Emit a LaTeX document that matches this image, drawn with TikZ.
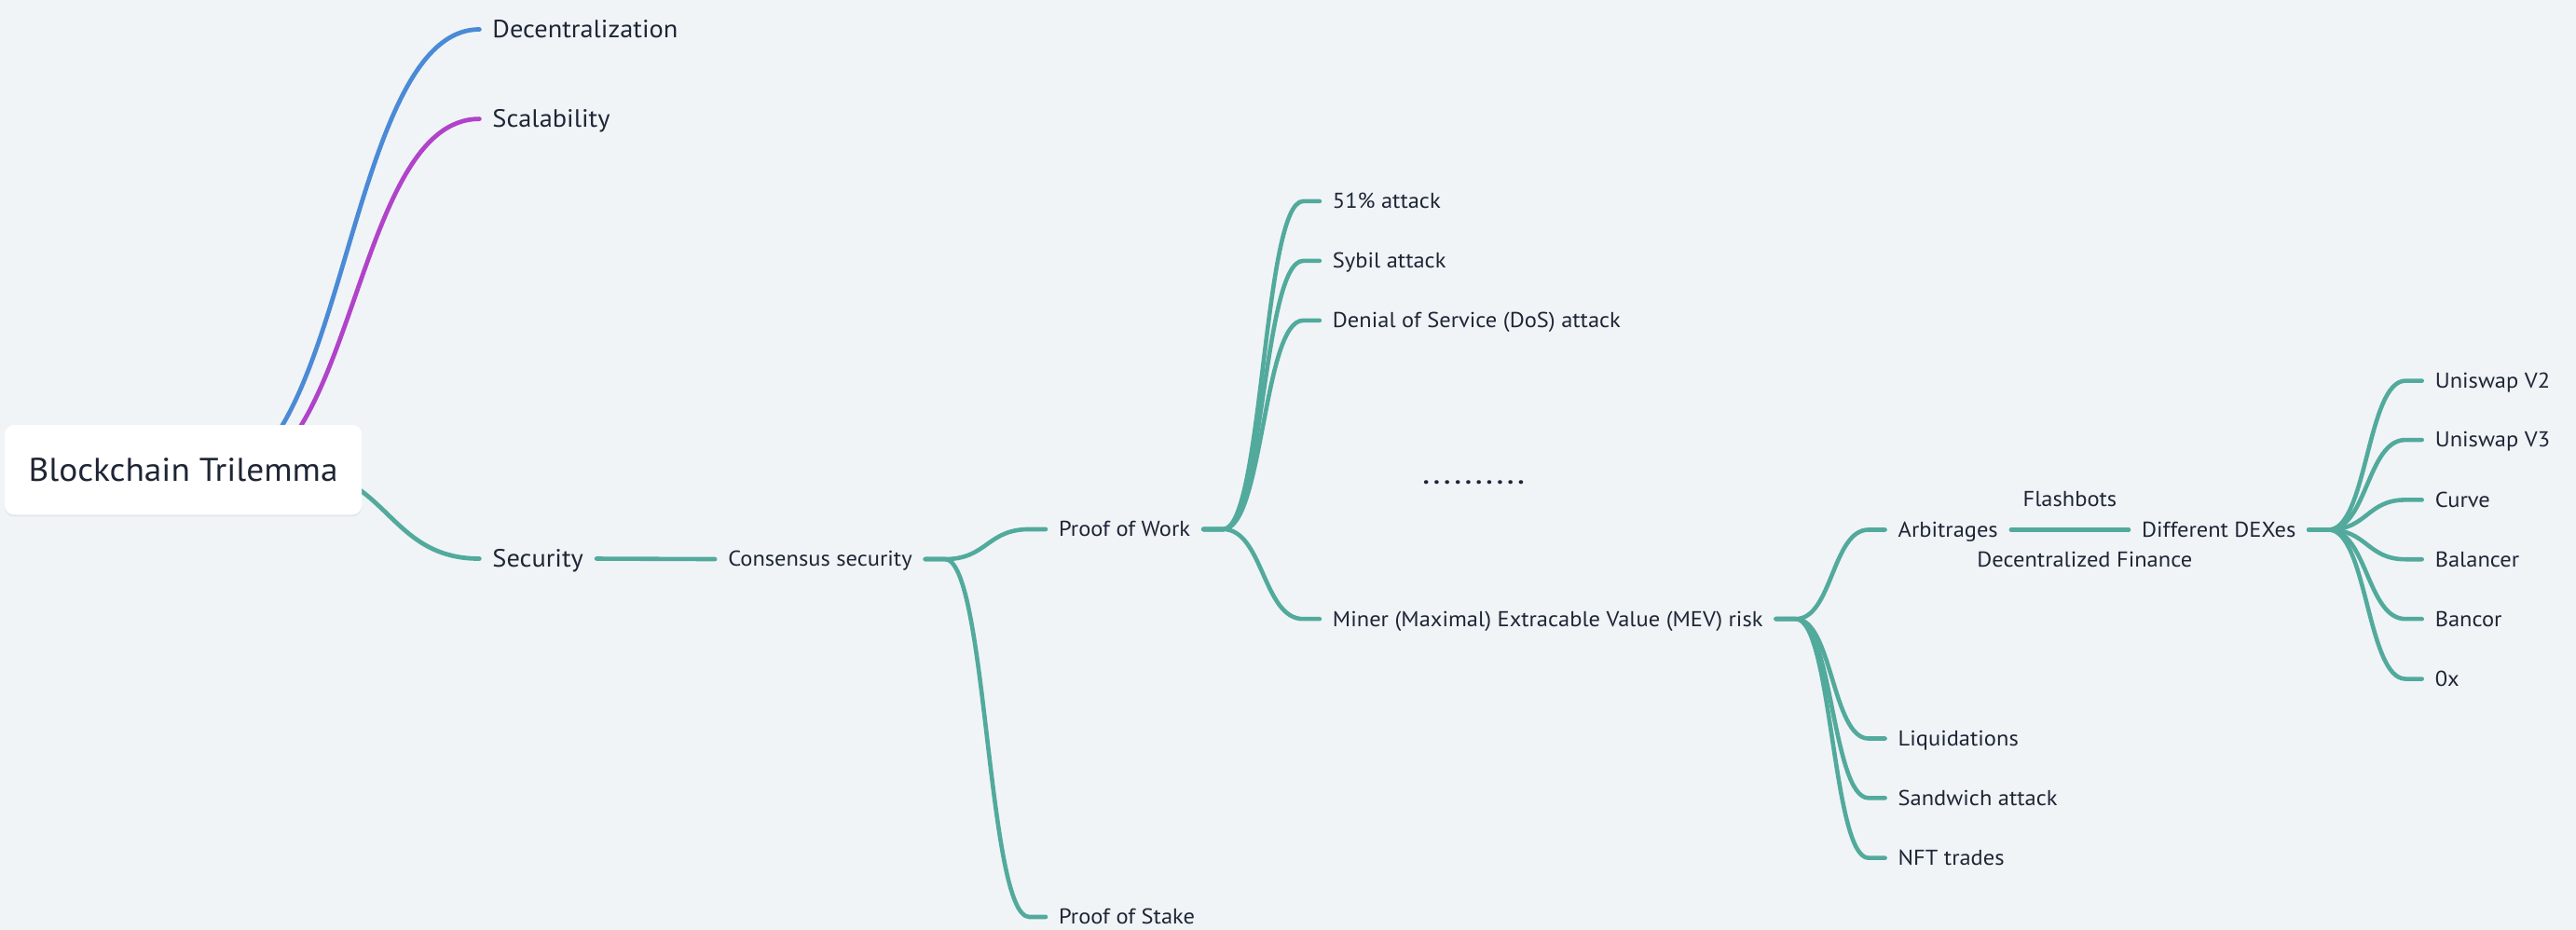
\documentclass[tikz,border=0pt]{standalone}
\usepackage{fontspec}
\setmainfont{PT Sans}[FakeStretch=1.06]
\usetikzlibrary{calc,shadows}
\definecolor{bg}{HTML}{F0F4F7}
\definecolor{ink}{HTML}{1E2535}
\definecolor{mteal}{HTML}{52AA9C}
\definecolor{mblue}{HTML}{4A8AD6}
\definecolor{mpurple}{HTML}{B043CA}
\newcommand\clink[2]{%
  \draw[link] let \p1=(#1.east), \p2=(#2.west), \n1={0.5*(\x2-\x1-22)} in
  (\p1) -- (\x1+12,\y1) .. controls (\x1+12+\n1,\y1) and (\x2-10-\n1,\y2) .. (\x2-10,\y2) -- (\p2);}
\newcommand\rlink[4]{% colour, start offset x, start offset y, child
  \draw[rootlink,#1] let \p1=($(root.center)+(#2,#3)$), \p2=(#4.west), \n1={0.5*(\x2-\x1)} in
  (\p1) .. controls (\x1+\n1,\y1) and (\x2-\n1,\y2) .. (\p2);}
\begin{document}
\begin{tikzpicture}[x=1pt,y=-1pt,
  lvl/.style={anchor=west, text=ink, inner xsep=7.8pt, inner ysep=0pt, text height=9pt, text depth=0pt, font=\fontsize{13.1}{15}\selectfont},
  lvlone/.style={lvl, text height=10.5pt, font=\fontsize{15.2}{18}\selectfont},
  lbl/.style={text=ink, inner sep=0pt, text height=9pt, text depth=0pt, font=\fontsize{13.1}{15}\selectfont},
  rootbox/.style={fill=white, rounded corners=5.7pt, minimum width=217.3pt, minimum height=54.6pt, inner sep=0pt, text=ink, text height=13.8pt, text depth=0pt, font=\fontsize{20}{23}\selectfont, drop shadow={shadow xshift=0pt, shadow yshift=-1.2pt, opacity=.05, fill=black}},
  link/.style={draw=mteal, line width=2.6pt, line cap=round},
  rootlink/.style={line width=2.7pt, line cap=round}]
\useasboundingbox (0,0) rectangle (1568,566.15);
\fill[bg] (0,0) rectangle (1568,566.15);
% text nodes
\node[lvlone] (dec) at (291.8,17.9) {Decentralization};
\node[lvlone] (sca) at (291.8,72.4) {Scalability};
\node[lvlone] (sec) at (291.8,340.1) {Security};
\node[lvl] (cons) at (435.2,340.4) {Consensus security};
\node[lvl] (pow) at (636.5,322.2) {Proof of Work};
\node[lvl] (pos) at (636.5,558.2) {Proof of Stake};
\node[lvl] (a51) at (803.2,122.5) {51\% attack};
\node[lvl] (syb) at (803.2,158.8) {Sybil attack};
\node[lvl] (dos) at (803.2,195.1) {Denial of Service (DoS) attack};
\node[lvl] (mev) at (803.2,376.8) {Miner (Maximal) Extracable Value (MEV) risk};
\node[lvl] (arb) at (1147.4,322.5) {Arbitrages};
\node[lvl] (liq) at (1147.4,449.6) {Liquidations};
\node[lvl] (san) at (1147.4,485.8) {Sandwich attack};
\node[lvl] (nft) at (1147.4,522.3) {NFT trades};
\node[lvl] (dex) at (1295.7,322.5) {Different DEXes};
\node[lvl] (uv2) at (1474.2,231.8) {Uniswap V2};
\node[lvl] (uv3) at (1474.2,267.8) {Uniswap V3};
\node[lvl] (cur) at (1474.2,304.3) {Curve};
\node[lvl] (bal) at (1474.2,340.5) {Balancer};
\node[lvl] (ban) at (1474.2,376.8) {Bancor};
\node[lvl] (zx) at (1474.2,413.3) {0x};
\node[anchor=base, text=ink, inner sep=0pt, font=\fontsize{15}{16}\selectfont\bfseries] (dots) at (897,294.6)
  {.\kern2.5pt.\kern2.5pt.\kern2.5pt.\kern2.5pt.\kern2.5pt.\kern2.5pt.\kern2.5pt.\kern2.5pt.\kern2.5pt.};
% root (invisible anchor node first; box drawn on top of the lines afterwards)
\path (111.5,286) coordinate (rootc);
\node[minimum width=217.3pt, minimum height=54.6pt, inner sep=0pt] (root) at (rootc) {};
\rlink{mblue}{18.5}{4}{dec}
\rlink{mpurple}{28.5}{4}{sca}
\rlink{mteal}{68.5}{0}{sec}
\node[rootbox] (rootbox) at (rootc) {Blockchain Trilemma};
% links
\draw[link] (sec.east) -- (cons.west);
\clink{cons}{pow}
\clink{cons}{pos}
\clink{pow}{a51}
\clink{pow}{syb}
\clink{pow}{dos}
\clink{pow}{mev}
\clink{mev}{arb}
\clink{mev}{liq}
\clink{mev}{san}
\clink{mev}{nft}
\draw[link] (arb.east) -- node[lbl, pos=0.5, yshift=18.4pt] (fb) {Flashbots}
  node[lbl, pos=0.5, xshift=9pt, yshift=-18.2pt] (defi) {Decentralized Finance} (dex.west);
\clink{dex}{uv2}
\clink{dex}{uv3}
\clink{dex}{cur}
\clink{dex}{bal}
\clink{dex}{ban}
\clink{dex}{zx}
\end{tikzpicture}
\end{document}
